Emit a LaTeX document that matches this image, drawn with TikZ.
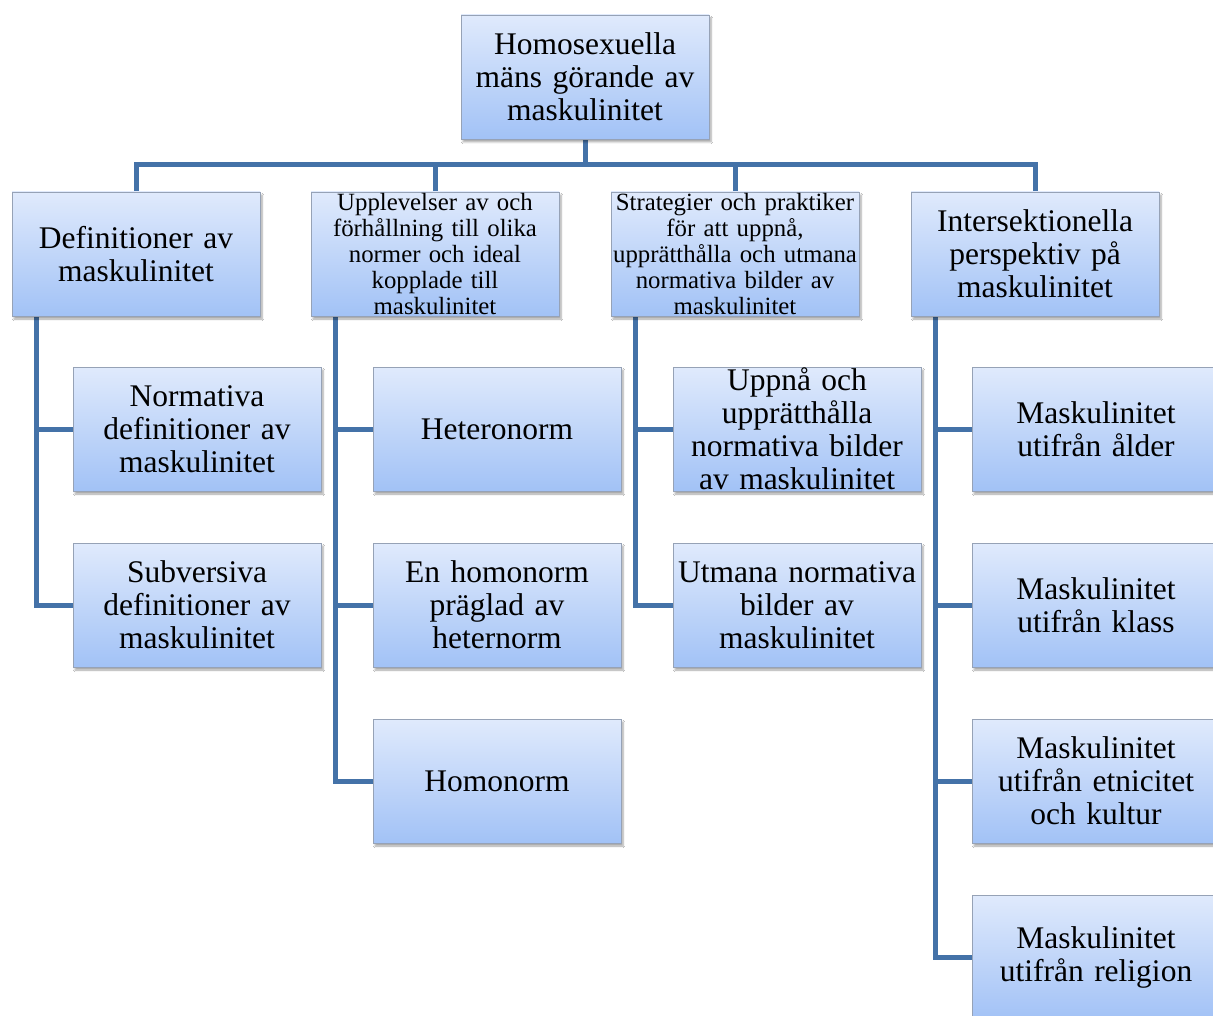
\documentclass[tikz,border=0pt]{standalone}
\usepackage{fontspec}
\setmainfont{Liberation Serif}
\usetikzlibrary{shadows.blur}
\definecolor{linecol}{RGB}{68,114,168}
\definecolor{boxtop}{RGB}{224,234,252}
\definecolor{boxbot}{RGB}{162,194,246}
\definecolor{boxedge}{RGB}{150,162,182}
\pgfdeclarelayer{background}
\pgfsetlayers{background,main}
\tikzset{
 box/.style={rectangle, draw=boxedge, line width=0.8pt, top color=boxtop, bottom color=boxbot,
   minimum width=248pt, minimum height=124pt, inner sep=0pt,
   blur shadow={shadow xshift=2pt, shadow yshift=-3pt, shadow blur steps=6, shadow opacity=35}},
 big/.style={text width=246pt, align=center, font=\fontsize{31.5}{33}\selectfont, inner sep=0pt},
 small/.style={text width=248pt, align=center, font=\fontsize{24.8}{26}\selectfont, inner sep=0pt},
 conn/.style={draw=linecol, line width=5pt},
}
\begin{document}
\begin{tikzpicture}[x=1pt,y=-1pt]
\clip (0,0) rectangle (1213,1016);
% root
\node[box] (r) at (585,77) {};
\node[big] (rt) at (r) {Homosexuella\\ mäns görande av\\ maskulinitet};
% level 1
\node[box] (c1) at (136,254) {};
\node[big] (c1t) at (c1) {Definitioner av\\ maskulinitet};
\node[box] (c2) at (435,254) {};
\node[small] (c2t) at (c2) {Upplevelser av och\\ förhållning till olika\\ normer och ideal\\ kopplade till\\ maskulinitet};
\node[box] (c3) at (735,254) {};
\node[small] (c3t) at (c3) {Strategier och praktiker\\ för att uppnå,\\ upprätthålla och utmana\\ normativa bilder av\\ maskulinitet};
\node[box] (c4) at (1035,254) {};
\node[big] (c4t) at (c4) {Intersektionella\\ perspektiv på\\ maskulinitet};
% column 1
\node[box] (a1) at (197,429) {};
\node[big] (a1t) at (a1) {Normativa\\ definitioner av\\ maskulinitet};
\node[box] (a2) at (197,605) {};
\node[big] (a2t) at (a2) {Subversiva\\ definitioner av\\ maskulinitet};
% column 2
\node[box] (b1) at (497,429) {};
\node[big] (b1t) at (b1) {Heteronorm};
\node[box] (b2) at (497,605) {};
\node[big] (b2t) at (b2) {En homonorm\\ präglad av\\ heternorm};
\node[box] (b3) at (497,781) {};
\node[big] (b3t) at (b3) {Homonorm};
% column 3
\node[box] (d1) at (797,429) {};
\node[big] (d1t) at (d1) {Uppnå och\\ upprätthålla\\ normativa bilder\\ av maskulinitet};
\node[box] (d2) at (797,605) {};
\node[big] (d2t) at (d2) {Utmana normativa\\ bilder av\\ maskulinitet};
% column 4
\node[box] (e1) at (1096,429) {};
\node[big] (e1t) at (e1) {Maskulinitet\\ utifrån ålder};
\node[box] (e2) at (1096,605) {};
\node[big] (e2t) at (e2) {Maskulinitet\\ utifrån klass};
\node[box] (e3) at (1096,781) {};
\node[big] (e3t) at (e3) {Maskulinitet\\ utifrån etnicitet\\ och kultur};
\node[box] (e4) at (1096,957) {};
\node[big] (e4t) at (e4) {Maskulinitet\\ utifrån religion};
% connectors
\coordinate (bus) at (585,165);
\coordinate (v1) at ([xshift=25pt]c1.south west);
\coordinate (v2) at ([xshift=25pt]c2.south west);
\coordinate (v3) at ([xshift=25pt]c3.south west);
\coordinate (v4) at ([xshift=25pt]c4.south west);
\begin{pgfonlayer}{background}
\fill[white] (0,0) rectangle (1213,1016);
\draw[conn] (r.south) -- (bus);
\draw[conn] (c1.north) |- (bus) -| (c4.north);
\draw[conn] (c2.north |- bus) -- (c2.north);
\draw[conn] (c3.north |- bus) -- (c3.north);
\draw[conn] (v1) |- (a2.west);
\draw[conn] (v1 |- a1.west) -- (a1.west);
\draw[conn] (v2) |- (b3.west);
\draw[conn] (v2 |- b1.west) -- (b1.west);
\draw[conn] (v2 |- b2.west) -- (b2.west);
\draw[conn] (v3) |- (d2.west);
\draw[conn] (v3 |- d1.west) -- (d1.west);
\draw[conn] (v4) |- (e4.west);
\draw[conn] (v4 |- e1.west) -- (e1.west);
\draw[conn] (v4 |- e2.west) -- (e2.west);
\draw[conn] (v4 |- e3.west) -- (e3.west);
\end{pgfonlayer}
\end{tikzpicture}
\end{document}
